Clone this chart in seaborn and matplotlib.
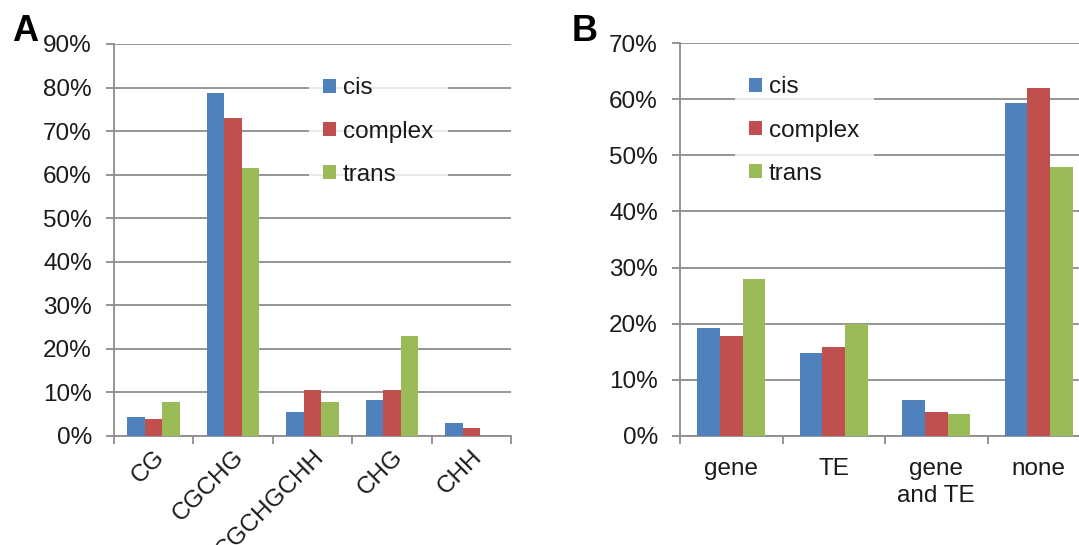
import matplotlib
matplotlib.use("Agg")
import matplotlib.pyplot as plt
from matplotlib.patches import Patch
from matplotlib.ticker import FuncFormatter, FixedLocator
import seaborn as sns
import pandas as pd

# Panel A: methylation context
contexts = ["CG", "CGCHG", "CGCHGCHH", "CHG", "CHH"]
a_cis = [4.4, 78.8, 5.5, 8.2, 3.0]
a_complex = [4.0, 72.9, 10.5, 10.5, 1.8]
a_trans = [7.7, 61.5, 7.7, 23.0, 0.0]

# Panel B: genomic annotation
regions = ["gene", "TE", "gene\nand TE", "none"]
b_cis = [19.3, 14.7, 6.5, 59.3]
b_complex = [17.8, 15.9, 4.2, 61.9]
b_trans = [28.0, 20.0, 4.0, 48.0]

series = ["cis", "complex", "trans"]
colors = ["#4F81BD", "#C0504D", "#9BBB59"]

sns.set_theme(style="white")
plt.rcParams["font.family"] = ["Liberation Sans", "DejaVu Sans"]
GRID = "#8c8c8c"
TXT = "#1a1a1a"
FS = 17.5


def long_frame(cats, cis, cx, tr):
    rows = []
    for name, vals in zip(series, [cis, cx, tr]):
        for c, v in zip(cats, vals):
            rows.append({"cat": c, "series": name, "value": v})
    return pd.DataFrame(rows)


def draw(ax, cats, cis, cx, tr, ymax, rotate, leg_anchor):
    df = long_frame(cats, cis, cx, tr)
    sns.barplot(data=df, x="cat", y="value", hue="series", order=cats,
                hue_order=series, palette=colors, width=0.66, saturation=1,
                dodge=True, ax=ax, legend=False, zorder=3)
    for p in ax.patches:
        p.set_edgecolor("none")
    n = len(cats)
    ax.set_xlim(-0.5, n - 0.5)
    ax.set_ylim(0, ymax)
    ax.set_yticks(range(0, ymax + 1, 10))
    ax.yaxis.set_major_formatter(FuncFormatter(lambda v, _: f"{v:.0f}%"))
    ax.yaxis.grid(True, color=GRID, linewidth=1.3, zorder=0)
    ax.set_axisbelow(True)
    ax.set_xlabel("")
    ax.set_ylabel("")
    for s in ["top", "right"]:
        ax.spines[s].set_visible(False)
    for s in ["left", "bottom"]:
        ax.spines[s].set_color(GRID)
        ax.spines[s].set_linewidth(1.3)
    ax.tick_params(axis="y", left=True, length=6, width=1.3, color=GRID,
                   labelsize=FS, labelcolor=TXT, pad=10)
    ax.tick_params(axis="x", which="major", bottom=False, length=0,
                   labelsize=FS, labelcolor=TXT, pad=16)
    ax.xaxis.set_minor_locator(FixedLocator([i - 0.5 for i in range(n + 1)]))
    ax.tick_params(axis="x", which="minor", bottom=True, length=6, width=1.3,
                   color=GRID)
    if rotate:
        ax.tick_params(axis="x", which="major", pad=7)
        plt.setp(ax.get_xticklabels(), rotation=45, ha="right",
                 rotation_mode="anchor")
    else:
        plt.setp(ax.get_xticklabels(), linespacing=1.3)
    handles = [Patch(facecolor=c, edgecolor="none") for c in colors]
    leg = ax.legend(handles, series, loc="upper left",
                    bbox_to_anchor=leg_anchor, frameon=True, fontsize=FS,
                    handlelength=0.54, handleheight=0.54, handletextpad=0.28,
                    labelspacing=0.87, borderpad=0.6, borderaxespad=0,
                    fancybox=False)
    leg.get_frame().set_facecolor("white")
    leg.get_frame().set_edgecolor("none")
    leg.set_zorder(5)
    for t in leg.get_texts():
        t.set_color(TXT)


fig = plt.figure(figsize=(10.79, 5.45), dpi=100)
axA = fig.add_axes([114 / 1079, 1 - 436 / 545, 397 / 1079, 392 / 545])
axB = fig.add_axes([680 / 1079, 1 - 436 / 545, 410 / 1079, 393 / 545])

draw(axA, contexts, a_cis, a_complex, a_trans, 90, True, (0.49, 0.952))
draw(axB, regions, b_cis, b_complex, b_trans, 70, False, (0.133, 0.952))

fig.text(0.011, 0.925, "A", fontsize=26, fontweight="bold", color="black")
fig.text(0.530, 0.925, "B", fontsize=26, fontweight="bold", color="black")

fig.savefig("out.png", dpi=100, facecolor="white")
